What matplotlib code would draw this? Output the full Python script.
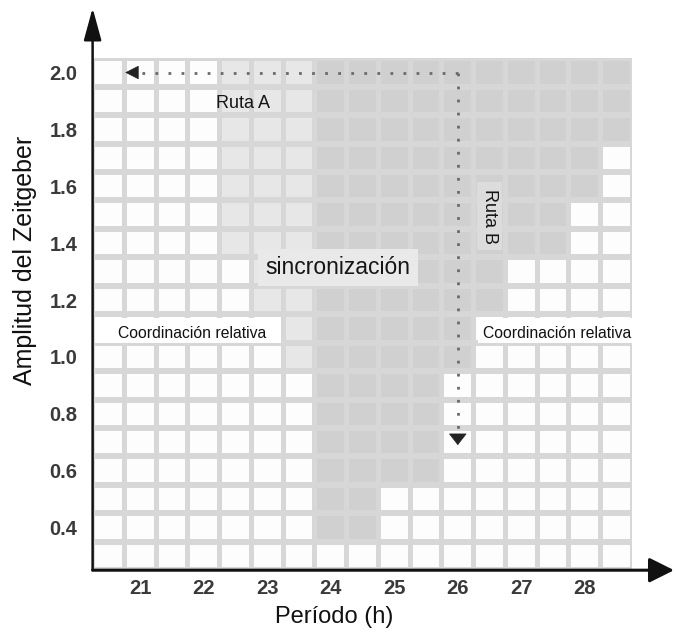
import matplotlib
matplotlib.use("Agg")
import matplotlib.pyplot as plt
from matplotlib.patches import Rectangle

plt.rcParams['font.family'] = ['Liberation Sans', 'DejaVu Sans']

# Column centres (period, h) and row centres (zeitgeber amplitude)
periods = [20.5, 21.0, 21.5, 22.0, 22.5, 23.0, 23.5, 24.0, 24.5,
           25.0, 25.5, 26.0, 26.5, 27.0, 27.5, 28.0, 28.5]
amplitudes = [2.0, 1.9, 1.8, 1.7, 1.6, 1.5, 1.4, 1.3, 1.2,
              1.1, 1.0, 0.9, 0.8, 0.7, 0.6, 0.5, 0.4, 0.3]

# W = relative coordination, L = weak entrainment, D = entrainment
zones = [
    "WWWWLLLDDDDDDDDDD",
    "WWWWLLLDDDDDDDDDD",
    "WWWWLLLDDDDDDDDDD",
    "WWWWLLLDDDDDDDDDW",
    "WWWWLLLDDDDDDDDDW",
    "WWWWLLLDDDDDDDDWW",
    "WWWWLLLDDDDDDDDWW",
    "WWWWWLLDDDDDDWWWW",
    "WWWWWLLDDDDDDWWWW",
    "WWWWWWLDDDDDWWWWW",
    "WWWWWWLDDDDDWWWWW",
    "WWWWWWWDDDDWWWWWW",
    "WWWWWWWDDDDWWWWWW",
    "WWWWWWWDDDDWWWWWW",
    "WWWWWWWDDDDWWWWWW",
    "WWWWWWWDDWWWWWWWW",
    "WWWWWWWDDWWWWWWWW",
    "WWWWWWWWWWWWWWWWW",
]

xticks = [21, 22, 23, 24, 25, 26, 27, 28]
yticks = [0.4, 0.6, 0.8, 1.0, 1.2, 1.4, 1.6, 1.8, 2.0]

# Route A runs left along the top row, route B runs down from 26 h
route_a = ([26.0, 20.9], [2.0, 2.0])
route_b = ([26.0, 26.0], [2.0, 0.71])

colors = {'W': '#fdfdfd', 'L': '#e7e7e7', 'D': '#d0d0d0'}
gap_color = '#d7d7d7'

fig = plt.figure(figsize=(6.76, 6.37), dpi=100)
ax = fig.add_axes([0.1370, 0.10487, 0.8601, 0.88257])
ax.set_xlim(20.25, 29.405)
ax.set_ylim(0.25, 2.2268)

# grid background (the gaps between cells)
ax.add_patch(Rectangle((20.25, 0.25), 8.5, 1.8, facecolor=gap_color,
                       edgecolor='none', zorder=0))

cw, ch = 0.421, 0.079
for amp, row in zip(amplitudes, zones):
    for per, z in zip(periods, row):
        ax.add_patch(Rectangle((per - cw / 2, amp - ch / 2), cw, ch,
                               facecolor=colors[z], edgecolor='none', zorder=1))

# label boxes
narrow = ['Liberation Sans Narrow', 'Liberation Sans', 'DejaVu Sans']
ax.add_patch(Rectangle((20.28, 1.048), 2.93, 0.088, facecolor='white',
                       edgecolor='none', zorder=2))
ax.add_patch(Rectangle((26.32, 1.048), 2.43, 0.088, facecolor='white',
                       edgecolor='none', zorder=2))
ax.text(21.81, 1.083, 'Coordinación relativa', ha='center', va='center',
        fontsize=11.3, family=narrow, color='#111111', zorder=3)
ax.text(27.56, 1.083, 'Coordinación relativa', ha='center', va='center',
        fontsize=11.3, family=narrow, color='#111111', zorder=3)

ax.add_patch(Rectangle((22.85, 1.25), 2.52, 0.13, facecolor='#e9e9e9',
                       edgecolor='none', zorder=2))
ax.text(24.11, 1.313, 'sincronización', ha='center', va='center',
        fontsize=16.5, color='#151515', zorder=3)

ax.text(22.2, 1.89, 'Ruta A', ha='left', va='center', fontsize=13,
        color='#151515', zorder=3)
ax.add_patch(Rectangle((26.31, 1.375), 0.38, 0.24, facecolor='#dcdcdc',
                       edgecolor='none', zorder=2))
ax.text(26.5, 1.495, 'Ruta B', ha='center', va='center', fontsize=13,
        rotation=270, color='#151515', zorder=3)

# dotted routes with arrow heads
ax.plot(*route_a, color='#6a6a6a', lw=2, ls=(0, (1, 3.7)), zorder=4)
ax.plot(*route_b, color='#6a6a6a', lw=2, ls=(0, (1, 3.7)), zorder=4)
ax.annotate('', xy=(20.72, 2.0), xytext=(20.9, 2.0),
            arrowprops=dict(arrowstyle='-|>,head_length=0.55,head_width=0.28',
                            color='#222222', lw=0.5, mutation_scale=16), zorder=5)
ax.annotate('', xy=(26.0, 0.68), xytext=(26.0, 0.71),
            arrowprops=dict(arrowstyle='-|>,head_length=0.45,head_width=0.35',
                            color='#222222', lw=0.5, mutation_scale=17), zorder=5)

# axes with arrow heads
for s in ax.spines.values():
    s.set_visible(False)
ax.annotate('', xy=(0, 1), xytext=(0, 0), xycoords='axes fraction',
            arrowprops=dict(arrowstyle='-|>,head_length=1.1,head_width=0.3',
                            color='#111111', lw=1.8, mutation_scale=18,
                            shrinkA=0, shrinkB=0), annotation_clip=False, zorder=6)
ax.annotate('', xy=(1, 0), xytext=(0, 0), xycoords='axes fraction',
            arrowprops=dict(arrowstyle='-|>,head_length=0.8,head_width=0.4',
                            color='#111111', lw=2.2, mutation_scale=19,
                            shrinkA=0, shrinkB=0), annotation_clip=False, zorder=6)

ax.set_xticks(xticks)
ax.set_xticklabels([str(t) for t in xticks])
ax.set_yticks(yticks)
ax.set_yticklabels([f'{t:.1f}' for t in yticks])
ax.tick_params(length=0, labelsize=14.5, labelcolor='#3a3a3a')
ax.tick_params(axis='x', pad=6)
ax.tick_params(axis='y', pad=11)
for lab in ax.get_xticklabels() + ax.get_yticklabels():
    lab.set_fontweight('bold')

ax.text(24.06, 0.085, 'Período (h)', ha='center', va='center', fontsize=17,
        color='#111111', clip_on=False)
ax.text(19.185, 1.34, 'Amplitud del Zeitgeber', ha='center', va='center',
        fontsize=18, rotation=90, color='#111111', clip_on=False)

fig.savefig('out.png', dpi=100)
